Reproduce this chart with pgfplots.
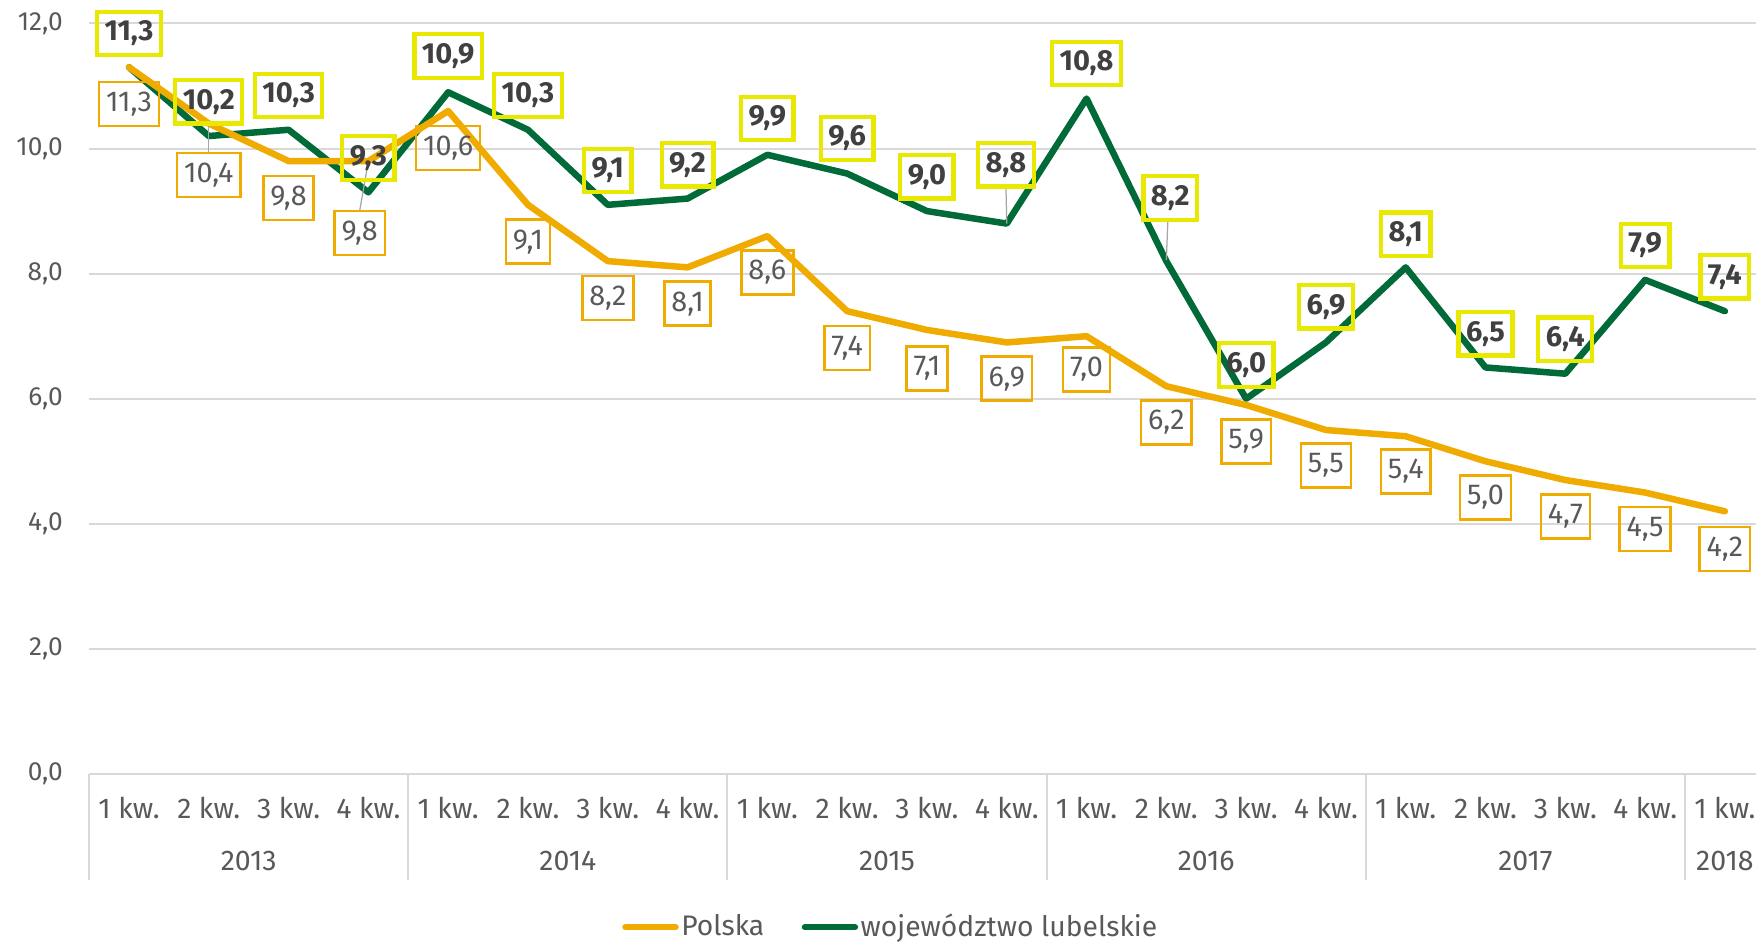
\documentclass[border=0pt]{standalone}
\usepackage{fontspec}
\setmainfont{Fira Sans}
\usepackage{pgfplots}
\usepackage{pgfplotstable}
\pgfplotsset{compat=1.18}

\definecolor{plOrange}{HTML}{F0AB00}
\definecolor{lubGreen}{HTML}{006A38}
\definecolor{labYellow}{HTML}{E8E800}
\definecolor{txtGray}{HTML}{595959}
\definecolor{boldGray}{HTML}{404040}
\definecolor{gridGray}{HTML}{D9D9D9}

% stopa bezrobocia rejestrowanego, kwartaly 2013-2018
\pgfplotstableread{
x polska lub
0  11.3 11.3
1  10.4 10.2
2  9.8  10.3
3  9.8  9.3
4  10.6 10.9
5  9.1  10.3
6  8.2  9.1
7  8.1  9.2
8  8.6  9.9
9  7.4  9.6
10 7.1  9.0
11 6.9  8.8
12 7.0  10.8
13 6.2  8.2
14 5.9  6.0
15 5.5  6.9
16 5.4  8.1
17 5.0  6.5
18 4.7  6.4
19 4.5  7.9
20 4.2  7.4
}\dane

\tikzset{
  olab/.style={draw=plOrange, line width=1pt, text=txtGray, minimum height=17.6pt,
    inner xsep=2.8pt, inner ysep=0pt, font=\fontsize{11.5}{12}\selectfont},
  glab/.style={draw=labYellow, line width=1.7pt, text=boldGray, minimum height=17.4pt,
    inner xsep=3pt, inner ysep=0pt, font=\fontsize{11.6}{12}\selectfont\bfseries},
  lead/.style={draw=gray!70, line width=0.5pt},
  yr/.style={text=txtGray, font=\fontsize{11.4}{12}\selectfont},
}

\begin{document}
\begin{tikzpicture}
\begin{axis}[
    x=31.92pt, y=25.02pt,
    xmin=-0.5, xmax=20.5, ymin=0, ymax=12,
    clip=false,
    axis line style={draw=none},
    tick style={draw=none},
    ytick={0,2,...,12},
    ymajorgrids,
    grid style={gridGray, line width=0.8pt},
    yticklabel style={text=txtGray, font=\fontsize{10.5}{12}\selectfont, xshift=-7pt,
      /pgf/number format/.cd, fixed, fixed zerofill, precision=1, use comma, assume math mode=true},
    xtick={0,...,20},
    xticklabels={1 kw.,2 kw.,3 kw.,4 kw.,1 kw.,2 kw.,3 kw.,4 kw.,1 kw.,2 kw.,3 kw.,4 kw.,
      1 kw.,2 kw.,3 kw.,4 kw.,1 kw.,2 kw.,3 kw.,4 kw.,1 kw.},
    xticklabel style={text=txtGray, font=\fontsize{11.4}{12}\selectfont, anchor=center, yshift=-13.4pt},
    legend style={at={(axis cs:9.55,-2.45)}, anchor=center, draw=none, fill=none,
      legend columns=2, font=\fontsize{11.3}{12}\selectfont, text=txtGray,
      /tikz/every even column/.append style={column sep=14pt},
      nodes={inner xsep=1pt, inner ysep=1pt}},
    legend image code/.code={\draw[#1, line cap=round] (0pt,0pt) -- (20pt,0pt);},
]
% separatory lat
\foreach \s in {-0.5,3.5,7.5,11.5,15.5,19.5}{
  \edef\tmp{\noexpand\draw[gridGray, line width=0.8pt] (axis cs:\s,0) -- (axis cs:\s,-1.69);}\tmp
}
\node[yr] at (axis cs:1.5,-1.39) {2013};
\node[yr] at (axis cs:5.5,-1.39) {2014};
\node[yr] at (axis cs:9.5,-1.39) {2015};
\node[yr] at (axis cs:13.5,-1.39) {2016};
\node[yr] at (axis cs:17.5,-1.39) {2017};
\node[yr] at (axis cs:20,-1.39) {2018};

\addplot[lubGreen, line width=2.6pt, line join=round, line cap=round, forget plot] table[x=x, y=lub] {\dane};
\addplot[plOrange, line width=2.6pt, line join=round, line cap=round] table[x=x, y=polska] {\dane};
\addlegendentry{Polska}
\addlegendimage{lubGreen, line width=2.6pt}
\addlegendentry{województwo lubelskie}

% linie odniesienia
\draw[lead] (axis cs:1,10.4) -- (axis cs:1,9.93);
\draw[lead] (axis cs:3,9.8) -- (axis cs:2.89,9.0);
\draw[lead] (axis cs:11,8.8) -- (axis cs:10.99,9.39);
\draw[lead] (axis cs:13,8.22) -- (axis cs:13.02,8.87);

% etykiety: Polska
\node[olab] at (axis cs:0,10.71) {11,3};
\node[olab] at (axis cs:1,9.58) {10,4};
\node[olab] at (axis cs:2,9.21) {9,8};
\node[olab] at (axis cs:2.89,8.65) {9,8};
\node[olab] at (axis cs:4,10.01) {10,6};
\node[olab] at (axis cs:5,8.51) {9,1};
\node[olab] at (axis cs:6,7.61) {8,2};
\node[olab] at (axis cs:7,7.52) {8,1};
\node[olab] at (axis cs:8,8.02) {8,6};
\node[olab] at (axis cs:9,6.81) {7,4};
\node[olab] at (axis cs:10,6.48) {7,1};
\node[olab] at (axis cs:11,6.32) {6,9};
\node[olab] at (axis cs:12,6.47) {7,0};
\node[olab] at (axis cs:13,5.62) {6,2};
\node[olab] at (axis cs:14,5.32) {5,9};
\node[olab] at (axis cs:15,4.93) {5,5};
\node[olab] at (axis cs:16,4.84) {5,4};
\node[olab] at (axis cs:17,4.42) {5,0};
\node[olab] at (axis cs:18,4.12) {4,7};
\node[olab] at (axis cs:19,3.92) {4,5};
\node[olab] at (axis cs:20,3.60) {4,2};

% etykiety: wojewodztwo lubelskie
\node[glab] at (axis cs:0,11.84) {11,3};
\node[glab] at (axis cs:1,10.75) {10,2};
\node[glab] at (axis cs:2,10.85) {10,3};
\node[glab] at (axis cs:3,9.85) {9,3};
\node[glab] at (axis cs:4,11.48) {10,9};
\node[glab] at (axis cs:5,10.85) {10,3};
\node[glab] at (axis cs:6,9.65) {9,1};
\node[glab] at (axis cs:7,9.74) {9,2};
\node[glab] at (axis cs:8,10.48) {9,9};
\node[glab] at (axis cs:9,10.16) {9,6};
\node[glab] at (axis cs:10,9.55) {9,0};
\node[glab] at (axis cs:10.99,9.74) {8,8};
\node[glab] at (axis cs:12,11.36) {10,8};
\node[glab] at (axis cs:13.05,9.21) {8,2};
\node[glab] at (axis cs:14,6.54) {6,0};
\node[glab] at (axis cs:15,7.47) {6,9};
\node[glab] at (axis cs:16,8.63) {8,1};
\node[glab] at (axis cs:17,7.04) {6,5};
\node[glab] at (axis cs:18,6.95) {6,4};
\node[glab] at (axis cs:19,8.45) {7,9};
\node[glab] at (axis cs:20,7.95) {7,4};

\coordinate (bbA) at (axis cs:-1.617,-2.72);
\coordinate (bbB) at (axis cs:20.39,12.375);
\end{axis}
\pgfresetboundingbox
\useasboundingbox (bbA) rectangle (bbB);
\end{tikzpicture}
\end{document}
